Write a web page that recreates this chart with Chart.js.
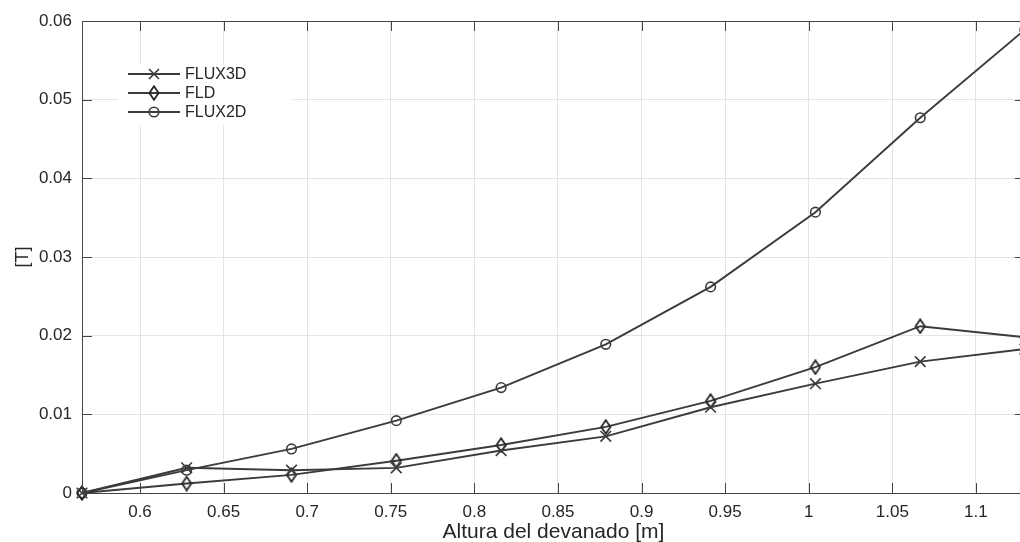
<!DOCTYPE html>
<html>
<head>
<meta charset="utf-8">
<script src="https://cdn.jsdelivr.net/npm/chart.js@4.4.0/dist/chart.umd.min.js"></script>
<style>
  html, body { margin: 0; padding: 0; background: #fff; overflow: hidden; }
  #wrap { position: relative; width: 1020px; height: 542px; overflow: hidden; }
  #grafico { position: absolute; left: 0; top: 0; }
  #leyenda { position: absolute; left: 118px; top: 65px; width: 175px; height: 60px; background: #fff;
             font-family: "Liberation Sans", Arial, sans-serif; font-size: 16px; color: #262626; }
  .fila { position: absolute; left: 10px; height: 18px; display: flex; align-items: center; }
  .fila canvas { display: block; }
  .fila span { margin-left: 5px; line-height: 18px; }
</style>
</head>
<body>
<div id="wrap">
  <canvas id="grafico" width="1034" height="542"></canvas>
  <div id="leyenda"></div>
</div>
<script>
// Datos
const alturas = [0.5653, 0.6279, 0.6906, 0.7533, 0.8160, 0.8786, 0.9413, 1.0040, 1.0667, 1.1293];
const flux3d = [0, 0.0032, 0.0029, 0.0032, 0.0054, 0.0072, 0.0109, 0.0139, 0.0167, 0.0183];
const fld = [0, 0.0012, 0.0023, 0.0041, 0.0061, 0.0084, 0.0117, 0.0160, 0.0212, 0.0198];
const flux2d = [0, 0.0029, 0.0056, 0.0092, 0.0134, 0.0189, 0.0262, 0.0357, 0.0477, 0.0589];
const nombres = ["FLUX3D", "FLD", "FLUX2D"];

const xTicks = [0.6, 0.65, 0.7, 0.75, 0.8, 0.85, 0.9, 0.95, 1, 1.05, 1.1];
const xTickLabels = ["0.6", "0.65", "0.7", "0.75", "0.8", "0.85", "0.9", "0.95", "1", "1.05", "1.1"];
const yTicks = [0, 0.01, 0.02, 0.03, 0.04, 0.05, 0.06];
const yTickLabels = ["0", "0.01", "0.02", "0.03", "0.04", "0.05", "0.06"];

const color = "#3b3b3b";
const fuente = "'Liberation Sans', Arial, Helvetica, sans-serif";

//Marcador rombo (mas alto que ancho)
function crearRombo() {
  const c = document.createElement("canvas");
  c.width = 12; c.height = 16;
  const g = c.getContext("2d");
  g.strokeStyle = "#262626"; g.lineWidth = 1.8;
  g.beginPath();
  g.moveTo(6, 1.2); g.lineTo(10.6, 8); g.lineTo(6, 14.8); g.lineTo(1.4, 8); g.closePath();
  g.stroke();
  return c;
}
const rombo = crearRombo();

function puntos(ys) {
  return alturas.map((x, i) => ({ x: x, y: ys[i] }));
}

function serie(nombre, ys, estilo, radio) {
  return {
    label: nombre,
    data: puntos(ys),
    showLine: true,
    borderColor: color,
    borderWidth: 1.9,
    pointStyle: estilo,
    pointRadius: radio,
    pointBorderColor: color,
    pointBackgroundColor: "rgba(0,0,0,0)",
    pointBorderWidth: 1.6,
    clip: { left: 10, top: 10, right: 0, bottom: 10 },
  };
}

//Ejes tipo MATLAB: caja y marcas hacia dentro
const ejes = {
  id: "ejes",
  afterDatasetsDraw(chart) {
    const { ctx, chartArea: a, scales: { x, y } } = chart;
    ctx.save();
    ctx.strokeStyle = "#444";
    ctx.lineWidth = 1;
    ctx.beginPath();
    x.ticks.forEach((t) => {
      const px = Math.round(x.getPixelForValue(t.value)) + 0.5;
      ctx.moveTo(px, a.bottom); ctx.lineTo(px, a.bottom - 10);
      ctx.moveTo(px, a.top); ctx.lineTo(px, a.top + 10);
    });
    y.ticks.forEach((t) => {
      const py = Math.round(y.getPixelForValue(t.value)) + 0.5;
      ctx.moveTo(a.left, py); ctx.lineTo(a.left + 10, py);
      ctx.moveTo(a.right, py); ctx.lineTo(a.right - 10, py);
    });
    ctx.stroke();
    ctx.strokeRect(Math.round(a.left) + 0.5, Math.round(a.top) + 0.5,
      Math.round(a.right - a.left), Math.round(a.bottom - a.top));
    ctx.restore();
  },
};

new Chart(document.getElementById("grafico"), {
  type: "scatter",
  data: {
    datasets: [
      serie(nombres[0], flux3d, "crossRot", 7.5),
      serie(nombres[1], fld, rombo, 5),
      serie(nombres[2], flux2d, "circle", 4.8),
    ],
  },
  options: {
    responsive: false,
    animation: false,
    events: [],
    layout: { padding: { left: 0, right: 6, top: 21, bottom: 0 } },
    plugins: { legend: { display: false }, tooltip: { enabled: false } },
    scales: {
      x: {
        type: "linear",
        min: alturas[0],
        max: alturas[alturas.length - 1],
        afterBuildTicks: (s) => { s.ticks = xTicks.map((v) => ({ value: v })); },
        afterFit: (s) => { s.height = 49; },
        grid: { color: "#e4e4e4", lineWidth: 1, drawTicks: false },
        border: { display: false },
        ticks: {
          padding: 9,
          color: "#262626",
          font: { family: fuente, size: 17 },
          maxRotation: 0,
          autoSkip: false,
          callback: (v, i) => xTickLabels[i],
        },
        title: {
          display: true,
          text: "Altura del devanado [m]",
          color: "#262626",
          font: { family: fuente, size: 21, lineHeight: "20px" },
          padding: { top: 0, bottom: 0 },
        },
      },
      y: {
        min: 0,
        max: 0.06,
        afterBuildTicks: (s) => { s.ticks = yTicks.map((v) => ({ value: v })); },
        afterFit: (s) => { s.width = 82; },
        grid: { color: "#e4e4e4", lineWidth: 1, drawTicks: false },
        border: { display: false },
        ticks: {
          padding: 10,
          color: "#262626",
          font: { family: fuente, size: 17 },
          autoSkip: false,
          callback: (v, i) => yTickLabels[i],
        },
        title: {
          display: true,
          text: "[T]",
          color: "#262626",
          font: { family: fuente, size: 18, lineHeight: 1.2 },
          padding: { top: 12, bottom: 0 },
        },
      },
    },
  },
  plugins: [ejes],
});

//Leyenda en HTML dentro del area de ejes
function icono(i) {
  const c = document.createElement("canvas");
  c.width = 52; c.height = 18;
  const g = c.getContext("2d");
  g.strokeStyle = color; g.lineWidth = 1.9;
  g.beginPath(); g.moveTo(0, 9); g.lineTo(52, 9); g.stroke();
  g.lineWidth = 1.6;
  if (i === 0) {
    g.beginPath();
    g.moveTo(21, 4); g.lineTo(31, 14); g.moveTo(31, 4); g.lineTo(21, 14);
    g.stroke();
  } else if (i === 1) {
    g.drawImage(rombo, 26 - 6, 9 - 8);
  } else {
    g.beginPath(); g.arc(26, 9, 4.8, 0, Math.PI * 2); g.stroke();
  }
  return c;
}

const leyenda = document.getElementById("leyenda");
nombres.forEach((n, i) => {
  const fila = document.createElement("div");
  fila.className = "fila";
  fila.style.top = i * 19 + "px";
  fila.appendChild(icono(i));
  const t = document.createElement("span");
  t.textContent = n;
  fila.appendChild(t);
  leyenda.appendChild(fila);
});
</script>
</body>
</html>
